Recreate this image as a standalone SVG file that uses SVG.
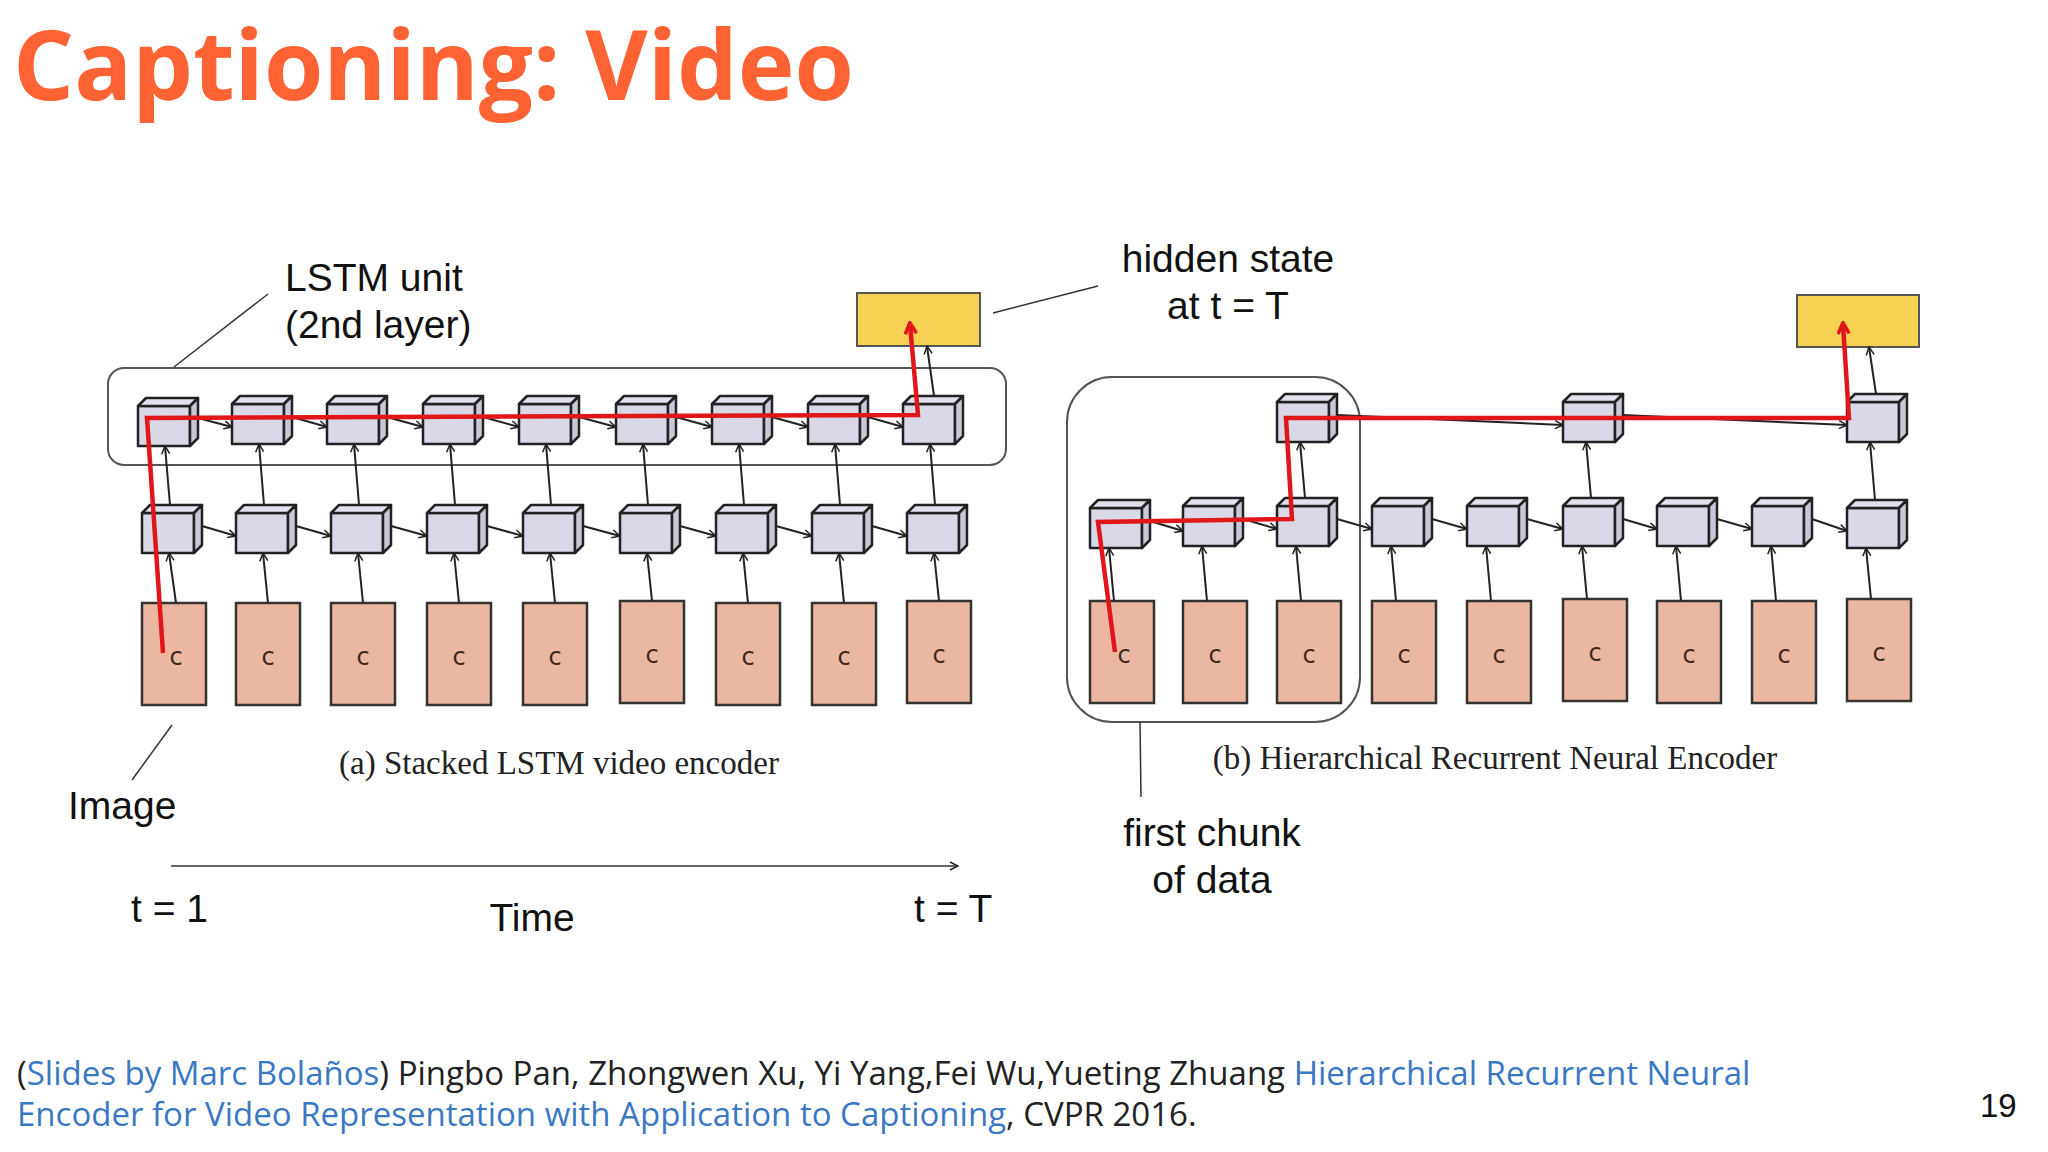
<svg xmlns="http://www.w3.org/2000/svg" xmlns:xlink="http://www.w3.org/1999/xlink" width="2048" height="1152" viewBox="0 0 2048 1152">
<style>
.t{font-family:"Liberation Sans",Arial,sans-serif;fill:#111}
.s{font-family:"Liberation Serif","Times New Roman",serif;fill:#222;font-size:33px}
.img{fill:#ebb7a0;stroke:#333;stroke-width:2.5}
.c{font-family:"DejaVu Sans",sans-serif;font-size:24px;fill:#3a2a20;text-anchor:middle}
.ar{stroke:#222;stroke-width:2;fill:none;marker-end:url(#ah)}
.red{stroke:#e0161b;stroke-width:4.5;fill:none;stroke-linejoin:miter}
.ptr{stroke:#333;stroke-width:1.5;fill:none}
.f{font-family:"Open Sans","Liberation Sans",sans-serif;font-size:33px;fill:#222}
.lk{fill:#3b78c4}
</style>
<defs>
<marker id="ah" viewBox="0 0 10 10" refX="9" refY="5" markerWidth="10" markerHeight="10" markerUnits="userSpaceOnUse" orient="auto"><path d="M1,1 L9,5 L1,9" fill="none" stroke="#222" stroke-width="1.5"/></marker>
<marker id="rh" viewBox="0 0 10 10" refX="8" refY="5" markerWidth="14" markerHeight="14" markerUnits="userSpaceOnUse" orient="auto"><path d="M1,1 L9,5 L1,9" fill="none" stroke="#e0161b" stroke-width="2.5"/></marker>
<g id="cube" stroke="#222" stroke-width="2.5" stroke-linejoin="round">
<rect x="0" y="8" width="52" height="40" fill="#d8d8e6"/>
<polygon points="0,8 8,0 60,0 52,8" fill="#e2e2ee"/>
<polygon points="52,8 60,0 60,40 52,48" fill="#c8c8d8"/>
</g>
</defs>
<rect width="2048" height="1152" fill="#fff"/>
<text x="13" y="100" style="font-family:'Open Sans','Liberation Sans',sans-serif;font-weight:bold;font-size:96px;fill:#ff6233">Captioning: Video</text>

<g id="containers" fill="none" stroke="#555" stroke-width="2">
<rect x="108" y="368" width="898" height="97" rx="16"/>
<rect x="1067" y="377" width="293" height="345" rx="45"/>
</g>
<g id="yellow">
<rect x="857" y="293" width="123" height="53" fill="#f7d153" stroke="#555" stroke-width="2"/>
<rect x="1797" y="295" width="122" height="52" fill="#f7d153" stroke="#555" stroke-width="2"/>
</g>

<g id="left-images">
<rect class="img" x="142" y="603" width="64" height="102"/><text class="c" x="176" y="665">c</text>
<rect class="img" x="236" y="603" width="64" height="102"/><text class="c" x="268" y="665">c</text>
<rect class="img" x="331" y="603" width="64" height="102"/><text class="c" x="363" y="665">c</text>
<rect class="img" x="427" y="603" width="64" height="102"/><text class="c" x="459" y="665">c</text>
<rect class="img" x="523" y="603" width="64" height="102"/><text class="c" x="555" y="665">c</text>
<rect class="img" x="620" y="601" width="64" height="102"/><text class="c" x="652" y="663">c</text>
<rect class="img" x="716" y="603" width="64" height="102"/><text class="c" x="748" y="665">c</text>
<rect class="img" x="812" y="603" width="64" height="102"/><text class="c" x="844" y="665">c</text>
<rect class="img" x="907" y="601" width="64" height="102"/><text class="c" x="939" y="663">c</text>
</g>
<g id="right-images">
<rect class="img" x="1090" y="601" width="64" height="102"/><text class="c" x="1124" y="663">c</text>
<rect class="img" x="1183" y="601" width="64" height="102"/><text class="c" x="1215" y="663">c</text>
<rect class="img" x="1277" y="601" width="64" height="102"/><text class="c" x="1309" y="663">c</text>
<rect class="img" x="1372" y="601" width="64" height="102"/><text class="c" x="1404" y="663">c</text>
<rect class="img" x="1467" y="601" width="64" height="102"/><text class="c" x="1499" y="663">c</text>
<rect class="img" x="1563" y="599" width="64" height="102"/><text class="c" x="1595" y="661">c</text>
<rect class="img" x="1657" y="601" width="64" height="102"/><text class="c" x="1689" y="663">c</text>
<rect class="img" x="1752" y="601" width="64" height="102"/><text class="c" x="1784" y="663">c</text>
<rect class="img" x="1847" y="599" width="64" height="102"/><text class="c" x="1879" y="661">c</text>
</g>

<g id="left-cubes">
<use href="#cube" x="142" y="505"/><use href="#cube" x="236" y="505"/><use href="#cube" x="331" y="505"/><use href="#cube" x="427" y="505"/><use href="#cube" x="523" y="505"/><use href="#cube" x="620" y="505"/><use href="#cube" x="716" y="505"/><use href="#cube" x="812" y="505"/><use href="#cube" x="907" y="505"/>
<use href="#cube" x="138" y="398"/><use href="#cube" x="232" y="396"/><use href="#cube" x="327" y="396"/><use href="#cube" x="423" y="396"/><use href="#cube" x="519" y="396"/><use href="#cube" x="616" y="396"/><use href="#cube" x="712" y="396"/><use href="#cube" x="808" y="396"/><use href="#cube" x="903" y="396"/>
</g>
<g id="right-cubes">
<use href="#cube" x="1090" y="500"/><use href="#cube" x="1183" y="498"/><use href="#cube" x="1277" y="498"/><use href="#cube" x="1372" y="498"/><use href="#cube" x="1467" y="498"/><use href="#cube" x="1563" y="498"/><use href="#cube" x="1657" y="498"/><use href="#cube" x="1752" y="498"/><use href="#cube" x="1847" y="500"/>
<use href="#cube" x="1277" y="394"/><use href="#cube" x="1563" y="394"/><use href="#cube" x="1847" y="394"/>
</g>

<g id="connectors">
<path class="ar" d="M176,603 L169,553"/><path class="ar" d="M268,603 L263,553"/><path class="ar" d="M363,603 L358,553"/><path class="ar" d="M459,603 L454,553"/><path class="ar" d="M555,603 L550,553"/><path class="ar" d="M652,601 L647,553"/><path class="ar" d="M748,603 L743,553"/><path class="ar" d="M844,603 L839,553"/><path class="ar" d="M939,601 L934,553"/>
<path class="ar" d="M170,505 L165,446"/><path class="ar" d="M264,505 L259,444"/><path class="ar" d="M359,505 L354,444"/><path class="ar" d="M455,505 L450,444"/><path class="ar" d="M551,505 L546,444"/><path class="ar" d="M648,505 L643,444"/><path class="ar" d="M744,505 L739,444"/><path class="ar" d="M840,505 L835,444"/><path class="ar" d="M935,505 L930,444"/>
<path class="ar" d="M202,526 L236,536"/><path class="ar" d="M296,526 L331,536"/><path class="ar" d="M391,526 L427,536"/><path class="ar" d="M487,526 L523,536"/><path class="ar" d="M583,526 L620,536"/><path class="ar" d="M680,526 L716,536"/><path class="ar" d="M776,526 L812,536"/><path class="ar" d="M872,526 L907,536"/>
<path class="ar" d="M198,418 L232,427"/><path class="ar" d="M292,417 L327,427"/><path class="ar" d="M387,417 L423,427"/><path class="ar" d="M483,417 L519,427"/><path class="ar" d="M579,417 L616,427"/><path class="ar" d="M676,417 L712,427"/><path class="ar" d="M772,417 L808,427"/><path class="ar" d="M868,417 L903,427"/>
<path class="ar" d="M934,396 L927,346"/>
<path class="ar" d="M1114,601 L1109,548"/><path class="ar" d="M1207,601 L1202,546"/><path class="ar" d="M1301,601 L1296,546"/><path class="ar" d="M1396,601 L1391,546"/><path class="ar" d="M1491,601 L1486,546"/><path class="ar" d="M1587,599 L1582,546"/><path class="ar" d="M1681,601 L1676,546"/><path class="ar" d="M1776,601 L1771,546"/><path class="ar" d="M1871,599 L1866,548"/>
<path class="ar" d="M1150,521 L1183,531"/><path class="ar" d="M1243,519 L1277,529"/><path class="ar" d="M1337,519 L1372,529"/><path class="ar" d="M1432,519 L1467,529"/><path class="ar" d="M1527,519 L1563,529"/><path class="ar" d="M1623,519 L1657,529"/><path class="ar" d="M1717,519 L1752,529"/><path class="ar" d="M1812,519 L1847,531"/>
<path class="ar" d="M1305,498 L1300,442"/><path class="ar" d="M1591,498 L1586,442"/><path class="ar" d="M1875,500 L1870,442"/>
<path class="ar" d="M1337,415 L1563,425"/><path class="ar" d="M1623,415 L1847,425"/>
<path class="ar" d="M1876,394 L1869,347"/>
<path class="red" marker-end="url(#rh)" d="M163,653 L147,418 L918,415 L910,324"/>
<path class="red" marker-end="url(#rh)" d="M1115,652 L1098,522 L1292,519 L1286,418 L1849,418 L1843,324"/>
<path class="ptr" d="M174,367 L268,294"/>
<path class="ptr" d="M993,313 L1098,286"/>
<path class="ptr" d="M132,780 L172,725"/>
<path class="ptr" d="M1140,722 L1141,797"/>
<path class="ptr" d="M171,866 L958,866" marker-end="url(#ah)"/>
</g>

<g id="labels">
<text class="t" x="285" y="291" font-size="39">LSTM unit</text>
<text class="t" x="285" y="338" font-size="39">(2nd layer)</text>
<text class="t" x="1228" y="272" font-size="39" text-anchor="middle">hidden state</text>
<text class="t" x="1228" y="319" font-size="39" text-anchor="middle">at t = T</text>
<text class="t" x="68" y="819" font-size="39">Image</text>
<text class="s" x="559" y="774" text-anchor="middle">(a) Stacked LSTM video encoder</text>
<text class="s" x="1495" y="769" text-anchor="middle">(b) Hierarchical Recurrent Neural Encoder</text>
<text class="t" x="1212" y="846" font-size="39" text-anchor="middle">first chunk</text>
<text class="t" x="1212" y="893" font-size="39" text-anchor="middle">of data</text>
<text class="t" x="131" y="922" font-size="39">t = 1</text>
<text class="t" x="532" y="931" font-size="39" text-anchor="middle">Time</text>
<text class="t" x="914" y="922" font-size="39">t = T</text>
</g>
<g id="footer">
<text class="f" x="17" y="1085">(<tspan class="lk">Slides by Marc Bolaños</tspan>) Pingbo Pan, Zhongwen Xu, Yi Yang,Fei Wu,Yueting Zhuang <tspan class="lk">Hierarchical Recurrent Neural</tspan></text>
<text class="f" x="17" y="1126"><tspan class="lk">Encoder for Video Representation with Application to Captioning</tspan>, CVPR 2016.</text>
<text class="t" x="1980" y="1117" font-size="33">19</text>
</g>
</svg>
